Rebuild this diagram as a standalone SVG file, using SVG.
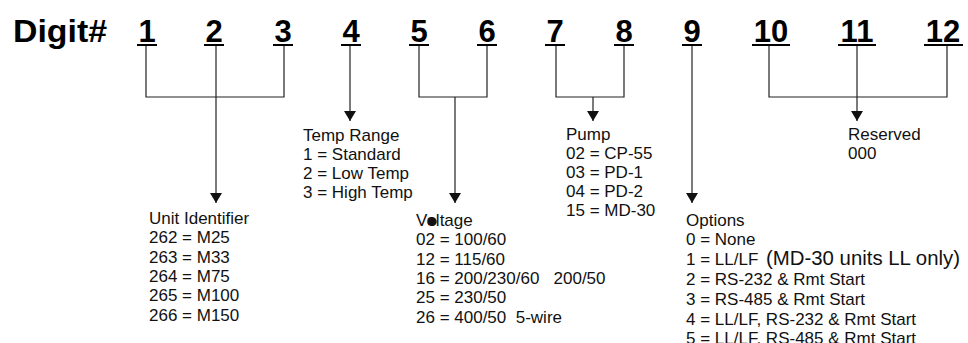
<svg xmlns="http://www.w3.org/2000/svg" width="968" height="343" viewBox="0 0 968 343">
<defs>
<marker id="arr" markerUnits="userSpaceOnUse" markerWidth="12" markerHeight="10" viewBox="0 0 12 10" refX="6" refY="10" orient="0">
<path d="M0,0 L12,0 L6,10 Z" fill="#111"/>
</marker>
</defs>
<style>
.hd{font-family:"Liberation Sans",Arial,sans-serif;font-weight:bold;font-size:31px;fill:#000}
.dg{font-family:"Liberation Sans",Arial,sans-serif;font-weight:bold;font-size:31px;fill:#000;text-anchor:middle}
.ul{stroke:#000;stroke-width:2}
.tx{font-family:"Liberation Sans",Arial,sans-serif;font-size:17px;fill:#111;white-space:pre}
.big{font-size:20.5px}
.cn{fill:none;stroke:#222;stroke-width:1.2}
</style>
<rect width="968" height="343" fill="#fff"/>
<g id="header"><text class="hd" x="13" y="42" textLength="94" lengthAdjust="spacingAndGlyphs">Digit#</text></g>
<g id="d1"><text class="dg" x="147" y="42">1</text><line class="ul" x1="137" y1="45" x2="157" y2="45"/></g>
<g id="d2"><text class="dg" x="214" y="42">2</text><line class="ul" x1="204" y1="45" x2="224" y2="45"/></g>
<g id="d3"><text class="dg" x="283" y="42">3</text><line class="ul" x1="273" y1="45" x2="293" y2="45"/></g>
<g id="d4"><text class="dg" x="351" y="42">4</text><line class="ul" x1="341" y1="45" x2="361" y2="45"/></g>
<g id="d5"><text class="dg" x="419" y="42">5</text><line class="ul" x1="409" y1="45" x2="429" y2="45"/></g>
<g id="d6"><text class="dg" x="487" y="42">6</text><line class="ul" x1="477" y1="45" x2="497" y2="45"/></g>
<g id="d7"><text class="dg" x="555" y="42">7</text><line class="ul" x1="545" y1="45" x2="565" y2="45"/></g>
<g id="d8"><text class="dg" x="624" y="42">8</text><line class="ul" x1="614" y1="45" x2="634" y2="45"/></g>
<g id="d9"><text class="dg" x="692" y="42">9</text><line class="ul" x1="682" y1="45" x2="702" y2="45"/></g>
<g id="d10"><text class="dg" x="771" y="42">10</text><line class="ul" x1="752" y1="45" x2="790" y2="45"/></g>
<g id="d11"><text class="dg" x="857" y="42">11</text><line class="ul" x1="838" y1="45" x2="876" y2="45"/></g>
<g id="d12"><text class="dg" x="943" y="42">12</text><line class="ul" x1="924" y1="45" x2="963" y2="45"/></g>
<g id="connectors">
<path class="cn" d="M146,46 V97 H284 V46"/>
<path class="cn" d="M216,46 V203" marker-end="url(#arr)"/>
<path class="cn" d="M350,46 V121" marker-end="url(#arr)"/>
<path class="cn" d="M419,46 V97 H487 V46"/>
<path class="cn" d="M455,97 V203" marker-end="url(#arr)"/>
<path class="cn" d="M556,46 V97 H624 V46"/>
<path class="cn" d="M593,97 V121" marker-end="url(#arr)"/>
<path class="cn" d="M692,46 V203" marker-end="url(#arr)"/>
<path class="cn" d="M769,46 V97 H947 V46"/>
<path class="cn" d="M857,46 V121" marker-end="url(#arr)"/>
</g>
<g id="unit">
<text class="tx" x="149" y="224">Unit Identifier</text>
<text class="tx" x="149" y="243.3">262 = M25</text>
<text class="tx" x="149" y="262.6">263 = M33</text>
<text class="tx" x="149" y="281.9">264 = M75</text>
<text class="tx" x="149" y="301.2">265 = M100</text>
<text class="tx" x="149" y="320.5">266 = M150</text>
</g>
<g id="temp">
<text class="tx" x="303" y="140.5">Temp Range</text>
<text class="tx" x="303" y="159.7">1 = Standard</text>
<text class="tx" x="303" y="178.9">2 = Low Temp</text>
<text class="tx" x="303" y="198.1">3 = High Temp</text>
</g>
<g id="voltage">
<text class="tx" x="416" y="226">Voltage</text>
<circle cx="432.3" cy="221.6" r="4.4" fill="#111"/>
<text class="tx" x="416" y="245.3">02 = 100/60</text>
<text class="tx" x="416" y="264.6">12 = 115/60</text>
<text class="tx" x="416" y="283.9">16 = 200/230/60   200/50</text>
<text class="tx" x="416" y="303.2">25 = 230/50</text>
<text class="tx" x="416" y="322.5">26 = 400/50  5-wire</text>
</g>
<g id="pump">
<text class="tx" x="566" y="139.5">Pump</text>
<text class="tx" x="566" y="158.7">02 = CP-55</text>
<text class="tx" x="566" y="177.9">03 = PD-1</text>
<text class="tx" x="566" y="197.1">04 = PD-2</text>
<text class="tx" x="566" y="216.3">15 = MD-30</text>
</g>
<g id="options">
<text class="tx" x="686" y="225.5">Options</text>
<text class="tx" x="686" y="245.3">0 = None</text>
<text class="tx" x="686" y="265.1">1 = LL/LF <tspan class="big" x="766" textLength="194" lengthAdjust="spacingAndGlyphs">(MD-30 units LL only)</tspan></text>
<text class="tx" x="686" y="284.9">2 = RS-232 &amp; Rmt Start</text>
<text class="tx" x="686" y="304.7">3 = RS-485 &amp; Rmt Start</text>
<text class="tx" x="686" y="324.5">4 = LL/LF, RS-232 &amp; Rmt Start</text>
<text class="tx" x="686" y="344.3">5 = LL/LF, RS-485 &amp; Rmt Start</text>
</g>
<g id="reserved">
<text class="tx" x="848" y="139.5">Reserved</text>
<text class="tx" x="848" y="158.7">000</text>
</g>
</svg>
